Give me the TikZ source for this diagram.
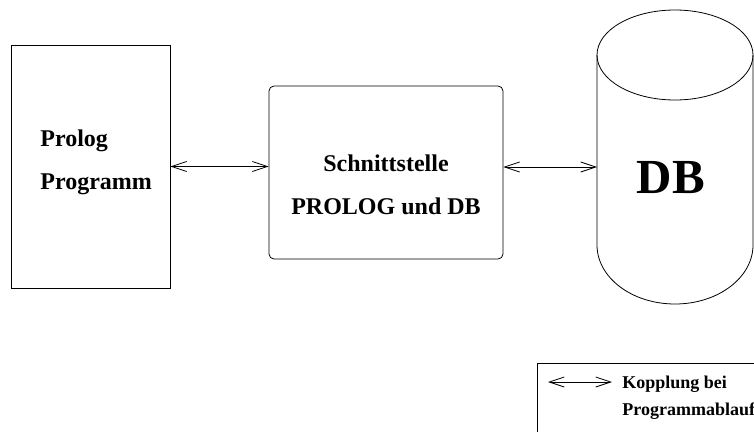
\documentclass[tikz,border=0pt]{standalone}
\usepackage{fontspec}
\setmainfont{Liberation Serif}
\usetikzlibrary{arrows.meta}

\begin{document}
\begin{tikzpicture}[
        x=1pt, y=-1pt, % Pixelraster, y nach unten
        line width=0.8pt,
        kopplung/.style = {{Straight Barb[length=15pt,width=10pt]}-{Straight Barb[length=15pt,width=10pt]}},
        block/.style = {draw, inner sep=0pt}, % Kaesten
        big/.style = {font=\fontsize{24}{43}\selectfont\bfseries, align=left, inner sep=0pt},
        small/.style = {font=\fontsize{18}{27}\selectfont\bfseries, align=left, inner sep=0pt},
    ]
    \clip (0,0) rectangle (754,431);

    \node[block, minimum width=159pt, minimum height=243pt] (prog) at (90.5,166.5) {};
    \node[big, anchor=north west] (progtext) at (40,129.6) {Prolog\\Programm};

    \node[block, rounded corners=5pt, minimum width=234pt, minimum height=173pt] (schnitt) at (386,172.5) {};
    \node[big, align=center, anchor=north] (schnitttext) at (386,154) {Schnittstelle\\PROLOG und DB};

    % Datenbank als Zylinder
    \coordinate (dbtop) at (675,55);
    \coordinate (dbbot) at (675,245);
    \draw (dbtop) ellipse [x radius=78, y radius=45];
    \draw ([xshift=-78pt]dbtop) -- ([xshift=-78pt]dbbot) arc [start angle=180, end angle=0, x radius=78, y radius=59] -- ([xshift=78pt]dbtop);
    \coordinate (dbw) at (597,167);
    \node[font=\fontsize{49}{49}\selectfont\bfseries, inner sep=0pt] (db) at (671,178) {DB};

    \draw[kopplung] (prog.east) -- (prog.east -| schnitt.west);
    \draw[kopplung] (dbw -| schnitt.east) -- (dbw);

    % Legende
    \draw (537,363) rectangle (780,450);
    \coordinate (lega) at (548,382);
    \coordinate (legb) at (612,382);
    \draw[kopplung] (lega) -- (legb);
    \node[small, anchor=north west] (legtext) at (622,375.8) {Kopplung bei\\Programmablauf};
\end{tikzpicture}
\end{document}
